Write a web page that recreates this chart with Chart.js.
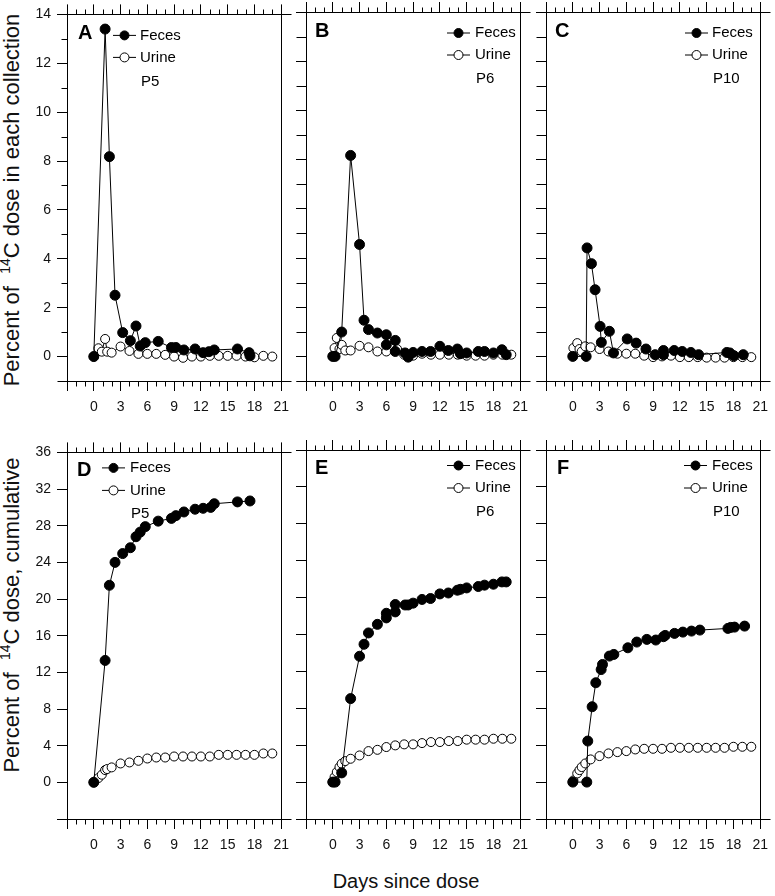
<!DOCTYPE html>
<html>
<head>
<meta charset="utf-8">
<script src="https://cdn.jsdelivr.net/npm/chart.js@4.4.1/dist/chart.umd.min.js"></script>
<style>
  body { margin:0; background:#fff; width:775px; height:896px; position:relative; overflow:hidden;
         font-family:"Liberation Sans", Arial, sans-serif; color:#111; }
  canvas { position:absolute; }
  .ytitle { position:absolute; white-space:nowrap; font-size:22px;
            transform:translate(-50%, -50%) rotate(-90deg); }
  .ytitle sup { font-size:14px; line-height:0; vertical-align:9px; }
  .xtitle { position:absolute; white-space:nowrap; font-size:20px; transform:translate(-50%, -50%); }
</style>
</head>
<body>
<div class="ytitle" style="left:12px; top:200px">Percent of&nbsp; <sup>14</sup>C dose in each collection</div>
<div class="ytitle" style="left:12px; top:615px">Percent of&nbsp; <sup>14</sup>C dose, cumulative</div>
<div class="xtitle" style="left:406px; top:881px">Days since dose</div>

<script>
// tick positions
const dayTicks  = [-3, 0, 3, 6, 9, 12, 15, 18, 21];
const rateTicks = [0, 2, 4, 6, 8, 10, 12, 14];
const rateMinor = [-1, 1, 3, 5, 7, 9, 11, 13];
const cumTicks  = [-4, 0, 4, 8, 12, 16, 20, 24, 28, 32, 36];

// A / D : P5
const daysFecesA = [0, 1.27, 1.75, 2.38, 3.24, 4.1, 4.73, 5.2, 5.77, 7.22, 8.7, 9.2, 10.1, 11.35, 12.25, 12.9, 13.5, 16.1, 17.4, 17.5];
const fecesA     = [0, 13.4, 8.18, 2.51, 0.98, 0.65, 1.25, 0.43, 0.57, 0.62, 0.37, 0.37, 0.27, 0.31, 0.16, 0.2, 0.27, 0.31, 0.16, 0.03];
const daysUrineA = [0, 0.52, 0.9, 1.27, 1.5, 2, 3, 4, 5, 6, 7, 8, 9, 10, 11, 12, 13, 14, 15, 16, 17, 18, 19, 20];
const urineA     = [0, 0.34, 0.2, 0.72, 0.2, 0.16, 0.41, 0.23, 0.11, 0.11, 0.11, 0.07, 0, -0.05, 0, 0, 0.03, 0.03, 0.03, 0.03, 0, -0.03, 0.03, 0];

const daysFecesD = [0, 1.27, 1.75, 2.38, 3.24, 4.1, 4.73, 5.2, 5.77, 7.22, 8.7, 9.2, 10.1, 11.35, 12.25, 13.1, 13.5, 16.1, 17.5];
const fecesD     = [0, 13.3, 21.5, 24.0, 24.96, 25.6, 26.8, 27.3, 27.9, 28.5, 28.8, 29.1, 29.5, 29.8, 29.9, 30.0, 30.4, 30.6, 30.7];
const daysUrineD = [0, 0.52, 0.9, 1.27, 1.5, 2, 3, 4, 5, 6, 7, 8, 9, 10, 11, 12, 13, 14, 15, 16, 17, 18, 19, 20];
const urineD     = [0, 0.47, 0.83, 1.34, 1.45, 1.63, 2.06, 2.17, 2.35, 2.6, 2.71, 2.71, 2.82, 2.82, 2.82, 2.82, 2.82, 3.0, 3.0, 3.0, 3.0, 3.0, 3.15, 3.15];

// B / E : P6
const daysFecesB = [0, 0.26, 1, 2, 3, 3.5, 4, 5, 6, 6, 7, 7, 8.1, 8.45, 9, 10, 10.95, 12, 12.95, 13.96, 14.3, 15, 16.3, 17, 18, 18.95, 19.43];
const fecesB     = [0, 0, 0.99, 8.17, 4.55, 1.47, 1.09, 0.95, 0.88, 0.47, 0.65, 0.2, 0.14, -0.03, 0.16, 0.2, 0.2, 0.41, 0.24, 0.3, 0.11, 0.14, 0.2, 0.2, 0.14, 0.27, 0.07];
const daysUrineB = [0, 0.2, 0.45, 0.75, 1, 1.4, 2, 3, 4, 5, 6, 7.2, 8, 9, 10, 11, 12, 13, 14, 15, 16, 17, 18, 19, 20];
const urineB     = [0, 0.34, 0.75, 0.3, 0.47, 0.24, 0.24, 0.43, 0.37, 0.2, 0.2, 0.3, 0.07, 0.03, 0.11, 0.07, 0.07, 0.07, 0.07, 0.03, 0.03, 0.03, 0.07, 0.07, 0.07];

const daysFecesE = [0, 0.26, 1, 2, 3, 3.5, 4, 5, 6, 6, 7, 7, 8.1, 8.45, 9, 10, 10.95, 12, 12.95, 13.96, 14.3, 15, 16.3, 17, 18, 18.95, 19.43];
const fecesE     = [0, 0, 1.0, 9.05, 13.64, 14.94, 16.17, 17.1, 17.8, 18.3, 18.45, 19.25, 19.2, 19.2, 19.4, 19.8, 19.9, 20.4, 20.5, 20.8, 20.9, 21.05, 21.2, 21.35, 21.45, 21.7, 21.7];
const daysUrineE = [0, 0.2, 0.45, 0.75, 1, 1.4, 2, 3, 4, 5, 6, 7, 8, 9, 10, 11, 12, 13, 14, 15, 16, 17, 18, 19, 20];
const urineE     = [0, 0.54, 1.09, 1.63, 2.0, 2.28, 2.53, 2.89, 3.36, 3.5, 3.8, 3.98, 4.09, 4.09, 4.23, 4.34, 4.34, 4.45, 4.45, 4.6, 4.6, 4.6, 4.7, 4.7, 4.7];

// C / F : P10
const daysFecesC = [0, 1.5, 1.6, 2.09, 2.5, 3.06, 3.2, 4.1, 4.56, 6.1, 7.1, 8.2, 9.23, 10.16, 10.16, 11.36, 12.26, 13.23, 14.1, 17.26, 17.6, 18.05, 19.1];
const fecesC     = [0, 0, 4.41, 3.77, 2.71, 1.22, 0.57, 1.02, 0.14, 0.71, 0.54, 0.3, 0.07, 0.24, 0.07, 0.24, 0.2, 0.16, 0.07, 0.16, 0.14, 0.03, 0.07];
const daysUrineC = [0.07, 0.5, 0.75, 1, 1.4, 2, 3, 4, 5, 6, 7, 8, 9, 10, 11, 12, 13, 14, 15, 16, 17, 18, 19, 20];
const urineC     = [0.34, 0.54, 0.3, 0.2, 0.41, 0.37, 0.3, 0.2, 0.11, 0.11, 0.11, 0.03, -0.03, 0, 0.03, -0.03, -0.03, -0.03, -0.05, -0.05, -0.05, -0.03, -0.03, -0.03];

const daysFecesF = [0, 1.57, 1.68, 2.17, 2.58, 3.18, 3.33, 4.1, 4.6, 6.17, 7.17, 8.3, 9.3, 10.16, 10.35, 11.4, 12.33, 13.3, 14.24, 17.38, 17.7, 18.12, 19.25];
const fecesF     = [0, 0, 4.45, 8.17, 10.77, 12.2, 12.75, 13.66, 13.84, 14.56, 15.18, 15.47, 15.4, 15.76, 15.9, 16.12, 16.26, 16.37, 16.48, 16.66, 16.77, 16.8, 16.91];
const daysUrineF = [0.07, 0.5, 0.75, 1, 1.4, 2, 3, 4, 5, 6, 7, 8, 9, 10, 11, 12, 13, 14, 15, 16, 17, 18, 19, 20];
const urineF     = [0.18, 0.94, 1.3, 1.63, 2.02, 2.46, 2.82, 3.11, 3.25, 3.36, 3.54, 3.61, 3.61, 3.61, 3.72, 3.72, 3.72, 3.72, 3.72, 3.72, 3.72, 3.83, 3.83, 3.83];

// layout
const PLOT_W = 215, PLOT_H = 369;
const AXIS_L = 60, AXIS_T = 12, AXIS_B = 45, PAD_R = 15;
const colLeft = [67, 306, 546];
const rowTop  = [12, 450];
const FONT = '"Liberation Sans", Arial, sans-serif';

const panels = [
  { id:"A", tag:"P5",  row:0, col:0, fx:daysFecesA, fy:fecesA, ux:daysUrineA, uy:urineA, letX:11, symX:46,  txtX:73,  minorLen:6 },
  { id:"B", tag:"P6",  row:0, col:1, fx:daysFecesB, fy:fecesB, ux:daysUrineB, uy:urineB, letX:9,  symX:141, txtX:169, minorLen:10 },
  { id:"C", tag:"P10", row:0, col:2, fx:daysFecesC, fy:fecesC, ux:daysUrineC, uy:urineC, letX:9,  symX:139, txtX:166, minorLen:10 },
  { id:"D", tag:"P5",  row:1, col:0, fx:daysFecesD, fy:fecesD, ux:daysUrineD, uy:urineD, letX:10, symX:35,  txtX:63 },
  { id:"E", tag:"P6",  row:1, col:1, fx:daysFecesE, fy:fecesE, ux:daysUrineE, uy:urineE, letX:9,  symX:141, txtX:169 },
  { id:"F", tag:"P10", row:1, col:2, fx:daysFecesF, fy:fecesF, ux:daysUrineF, uy:urineF, letX:11, symX:138, txtX:166 }
];

function toPoints(xs, ys) {
  return xs.map((x, i) => ({ x, y: ys[i] }));
}

// frame, minor ticks, panel letter and legend
function decorPlugin(p) {
  return {
    id: "decor" + p.id,
    afterDraw(chart) {
      const { ctx, chartArea: a, scales: { x, y } } = chart;
      const L = Math.round(a.left) + 0.5, R = Math.round(a.right) + 0.5;
      const T = Math.round(a.top) + 0.5,  B = Math.round(a.bottom) + 0.5;
      ctx.save();
      ctx.strokeStyle = "#000";
      ctx.lineWidth = 1;
      ctx.beginPath();
      ctx.moveTo(L - 10, T); ctx.lineTo(R + 10, T);
      ctx.moveTo(L - 10, B); ctx.lineTo(R + 10, B);
      ctx.moveTo(L, T); ctx.lineTo(L, B);
      ctx.moveTo(R, T); ctx.lineTo(R, B);
      for (let d = x.min; d <= x.max; d++) {
        if (dayTicks.includes(d)) continue;
        const px = Math.round(x.getPixelForValue(d)) + 0.5;
        ctx.moveTo(px, T); ctx.lineTo(px, T - 5);
        ctx.moveTo(px, B); ctx.lineTo(px, B + 5);
      }
      if (p.row === 0) {
        rateMinor.forEach(v => {
          const py = Math.round(y.getPixelForValue(v)) + 0.5;
          ctx.moveTo(L, py); ctx.lineTo(L - p.minorLen, py);
        });
      }
      ctx.stroke();

      // legend
      const rows = p.row === 0 ? [21, 43, 67] : [15.5, 38, 61.5];
      const letY = p.row === 0 ? 19.5 : 18;
      ctx.fillStyle = "#000";
      ctx.textBaseline = "middle";
      ctx.font = "bold 20px " + FONT;
      ctx.fillText(p.id, a.left + p.letX, a.top + letY);

      ctx.font = "15px " + FONT;
      ["Feces", "Urine"].forEach((name, i) => {
        const cy = a.top + rows[i];
        const sx = a.left + p.symX;
        ctx.beginPath();
        ctx.moveTo(sx, cy); ctx.lineTo(sx + 23, cy);
        ctx.stroke();
        ctx.beginPath();
        ctx.arc(sx + 11.5, cy, 4.5, 0, Math.PI * 2);
        ctx.fillStyle = i === 0 ? "#000" : "#fff";
        ctx.fill();
        ctx.stroke();
        ctx.fillStyle = "#000";
        ctx.fillText(name, a.left + p.txtX, cy);
      });
      ctx.fillText(p.tag, a.left + p.txtX + 1, a.top + rows[2]);
      ctx.restore();
    }
  };
}

function makePanel(p) {
  const canvas = document.createElement("canvas");
  canvas.width  = AXIS_L + PLOT_W + PAD_R;
  canvas.height = AXIS_T + PLOT_H + AXIS_B;
  canvas.style.left = (colLeft[p.col] - AXIS_L) + "px";
  canvas.style.top  = (rowTop[p.row] - AXIS_T) + "px";
  document.body.appendChild(canvas);

  const yTicks = p.row === 0 ? rateTicks : cumTicks;
  const tickFont = { family: FONT, size: 14 };

  new Chart(canvas.getContext("2d"), {
    type: "line",
    data: {
      datasets: [
        { label: "Feces", data: toPoints(p.fx, p.fy),
          borderColor: "#000", borderWidth: 1,
          pointRadius: 5, pointBackgroundColor: "#000", pointBorderColor: "#000", pointBorderWidth: 1 },
        { label: "Urine", data: toPoints(p.ux, p.uy),
          borderColor: "#000", borderWidth: 1,
          pointRadius: 4.5, pointBackgroundColor: "#fff", pointBorderColor: "#000", pointBorderWidth: 1 }
      ]
    },
    options: {
      responsive: false,
      animation: false,
      devicePixelRatio: 1,
      layout: { padding: { left: 0, right: PAD_R, top: 0, bottom: 0 } },
      elements: { line: { tension: 0 } },
      plugins: { legend: { display: false }, tooltip: { enabled: false } },
      scales: {
        x: {
          type: "linear", position: "bottom", min: -3, max: 21,
          afterBuildTicks: s => { s.ticks = dayTicks.map(v => ({ value: v })); },
          afterFit: s => { s.height = AXIS_B; },
          grid: { drawOnChartArea: false, tickLength: 10, color: "#000", tickColor: "#000" },
          border: { display: false },
          ticks: { color: "#111", font: tickFont, padding: 8, maxRotation: 0,
                   callback: v => (v < 0 ? "" : v) }
        },
        x2: {
          type: "linear", position: "top", min: -3, max: 21,
          afterBuildTicks: s => { s.ticks = dayTicks.map(v => ({ value: v })); },
          afterFit: s => { s.height = AXIS_T; },
          grid: { drawOnChartArea: false, tickLength: 10, color: "#000", tickColor: "#000" },
          border: { display: false },
          ticks: { display: false }
        },
        y: {
          type: "linear", position: "left",
          min: p.row === 0 ? -1 : -4, max: p.row === 0 ? 14 : 36,
          afterBuildTicks: s => { s.ticks = yTicks.map(v => ({ value: v })); },
          afterFit: s => { s.width = AXIS_L; },
          grid: { drawOnChartArea: false, tickLength: 10, color: "#000", tickColor: "#000" },
          border: { display: false },
          ticks: { display: p.col === 0, color: "#111", font: tickFont, padding: 6,
                   callback: v => (v < 0 ? "" : v) }
        }
      }
    },
    plugins: [decorPlugin(p)]
  });
}

panels.forEach(makePanel);
</script>
</body>
</html>
